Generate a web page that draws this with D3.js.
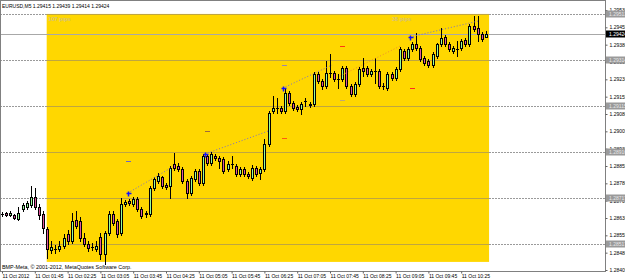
<!DOCTYPE html>
<html>
<head>
<meta charset="utf-8">
<script src="https://cdn.jsdelivr.net/npm/d3@7"></script>
<style>
  body { margin: 0; background: #fff; }
  svg { display: block; font-family: "Liberation Sans", Arial, sans-serif; }
</style>
</head>
<body>
<div id="chart"></div>
<script>
const title = "EURUSD,M5  1.29415 1.29439 1.29414 1.29424";
const copyright = "BMP-Meta, \u00a9 2001-2012, MetaQuotes Software Corp.";

// M5 bars, index 0 = first visible bar
const labelBars = [0, 8, 16, 24, 32, 40, 48, 56, 64, 72, 80, 88, 96, 104, 112];
const timeLabels = ["11 Oct 2012", "11 Oct 01:45", "11 Oct 02:25", "11 Oct 03:05", "11 Oct 03:45",
  "11 Oct 04:25", "11 Oct 05:05", "11 Oct 05:45", "11 Oct 06:25", "11 Oct 07:05", "11 Oct 07:45",
  "11 Oct 08:25", "11 Oct 09:05", "11 Oct 09:45", "11 Oct 10:25"];

const opens = [1.28647,1.28651,1.28642,1.28642,1.28625,1.28668,1.28677,1.28686,1.28720,1.28677,
  1.28647,1.28582,1.28491,1.28495,1.28495,1.28508,1.28560,1.28530,1.28621,1.28616,
  1.28543,1.28517,1.28504,1.28495,1.28547,1.28474,1.28565,1.28647,1.28616,1.28565,
  1.28690,1.28703,1.28690,1.28712,1.28668,1.28647,1.28647,1.28759,1.28790,1.28807,
  1.28772,1.28768,1.28863,1.28855,1.28842,1.28790,1.28738,1.28798,1.28833,1.28781,
  1.28898,1.28868,1.28898,1.28889,1.28885,1.28842,1.28863,1.28855,1.28820,1.28842,
  1.28820,1.28803,1.28846,1.28824,1.28842,1.28950,1.29093,1.29106,1.29106,1.29093,
  1.29171,1.29127,1.29110,1.29101,1.29136,1.29123,1.29123,1.29253,1.29223,1.29201,
  1.29257,1.29257,1.29231,1.29231,1.29279,1.29201,1.29166,1.29210,1.29279,1.29279,
  1.29253,1.29266,1.29266,1.29201,1.29192,1.29253,1.29236,1.29275,1.29352,1.29322,
  1.29361,1.29383,1.29365,1.29322,1.29309,1.29292,1.29331,1.29383,1.29413,1.29383,
  1.29352,1.29361,1.29365,1.29400,1.29383,1.29461,1.29452,1.29426,1.29415];
const highs = [1.28656,1.28655,1.28660,1.28647,1.28677,1.28694,1.28703,1.28768,1.28759,1.28690,
  1.28660,1.28590,1.28530,1.28512,1.28530,1.28560,1.28577,1.28651,1.28660,1.28634,
  1.28565,1.28530,1.28521,1.28530,1.28565,1.28573,1.28660,1.28660,1.28625,1.28716,
  1.28707,1.28712,1.28720,1.28720,1.28677,1.28660,1.28768,1.28807,1.28824,1.28811,
  1.28781,1.28855,1.28911,1.28868,1.28850,1.28798,1.28811,1.28842,1.28842,1.28906,
  1.28906,1.28915,1.28906,1.28898,1.28894,1.28876,1.28898,1.28863,1.28850,1.28850,
  1.28829,1.28859,1.28855,1.28850,1.28972,1.29093,1.29158,1.29149,1.29114,1.29188,
  1.29179,1.29136,1.29119,1.29132,1.29149,1.29132,1.29262,1.29262,1.29231,1.29309,
  1.29339,1.29266,1.29253,1.29288,1.29288,1.29210,1.29218,1.29283,1.29322,1.29288,
  1.29275,1.29322,1.29275,1.29214,1.29262,1.29262,1.29283,1.29370,1.29361,1.29370,
  1.29391,1.29430,1.29374,1.29331,1.29318,1.29348,1.29387,1.29452,1.29422,1.29391,
  1.29374,1.29396,1.29404,1.29409,1.29469,1.29504,1.29504,1.29435,1.29439];
const lows = [1.28638,1.28638,1.28638,1.28625,1.28621,1.28660,1.28668,1.28677,1.28668,1.28625,
  1.28565,1.28456,1.28478,1.28478,1.28487,1.28500,1.28517,1.28521,1.28586,1.28530,
  1.28508,1.28487,1.28491,1.28487,1.28452,1.28430,1.28556,1.28599,1.28547,1.28556,
  1.28681,1.28686,1.28681,1.28660,1.28629,1.28634,1.28638,1.28751,1.28781,1.28759,
  1.28755,1.28716,1.28837,1.28833,1.28781,1.28716,1.28729,1.28790,1.28772,1.28772,
  1.28859,1.28859,1.28880,1.28846,1.28824,1.28833,1.28846,1.28811,1.28811,1.28811,
  1.28803,1.28794,1.28811,1.28798,1.28833,1.28941,1.29084,1.29084,1.29084,1.29084,
  1.29119,1.29097,1.29093,1.29080,1.29114,1.29110,1.29114,1.29214,1.29188,1.29192,
  1.29240,1.29223,1.29192,1.29223,1.29192,1.29158,1.29158,1.29201,1.29244,1.29244,
  1.29244,1.29214,1.29192,1.29188,1.29184,1.29227,1.29227,1.29266,1.29314,1.29314,
  1.29352,1.29357,1.29309,1.29292,1.29283,1.29283,1.29322,1.29374,1.29374,1.29352,
  1.29344,1.29331,1.29357,1.29374,1.29374,1.29439,1.29396,1.29396,1.29414];
const closes = [1.28647,1.28642,1.28651,1.28629,1.28651,1.28686,1.28694,1.28720,1.28677,1.28642,
  1.28586,1.28495,1.28504,1.28495,1.28508,1.28543,1.28530,1.28616,1.28595,1.28543,
  1.28517,1.28500,1.28504,1.28508,1.28474,1.28565,1.28647,1.28608,1.28560,1.28690,
  1.28699,1.28694,1.28712,1.28668,1.28638,1.28651,1.28759,1.28798,1.28811,1.28768,
  1.28764,1.28846,1.28846,1.28842,1.28790,1.28738,1.28803,1.28833,1.28781,1.28898,
  1.28868,1.28906,1.28889,1.28876,1.28833,1.28863,1.28863,1.28820,1.28842,1.28820,
  1.28811,1.28846,1.28820,1.28842,1.28950,1.29084,1.29106,1.29106,1.29093,1.29171,
  1.29127,1.29106,1.29101,1.29123,1.29136,1.29119,1.29253,1.29223,1.29201,1.29257,
  1.29257,1.29231,1.29231,1.29279,1.29201,1.29166,1.29210,1.29275,1.29266,1.29253,
  1.29266,1.29266,1.29201,1.29201,1.29253,1.29236,1.29275,1.29361,1.29322,1.29361,
  1.29383,1.29365,1.29318,1.29301,1.29292,1.29339,1.29383,1.29409,1.29383,1.29361,
  1.29365,1.29361,1.29396,1.29383,1.29461,1.29448,1.29426,1.29404,1.29424];

const priceTicks = [1.29530,1.29455,1.29380,1.29305,1.29230,1.29155,1.29080,1.29005,
  1.28930,1.28855,1.28780,1.28705,1.28630,1.28555,1.28480,1.28405];
const levelPrices = [1.29513, 1.29314, 1.29115, 1.28916, 1.28717, 1.28517];
const bidPrice = 1.29424;

// yellow box: bar range and price range
const boxBars = [10.9, 118.8];
const boxPrices = [1.28440, 1.29513];
const boxTexts = ["107 pips", "38 pips"];
const boxTextBars = [11.3, 95.1];

// blue arrows and the dotted lines leaving them
const arrowBars = [30.7, 49.5, 68.5, 99.5];
const arrowPrices = [1.28738, 1.28907, 1.29192, 1.29413];
const dotFromBars = [30.7, 49.5, 68.5, 82.4, 99.5];
const dotFromPrices = [1.28738, 1.28907, 1.29192, 1.29244, 1.29413];
const dotToBars = [41.5, 64.9, 80.5, 97.1, 116.1];
const dotToPrices = [1.28850, 1.29006, 1.29292, 1.29374, 1.29482];
const dotColors = ["#7a70c8", "#7a70c8", "#7a70c8", "#f08a30", "#7a70c8"];

// short level dashes
const dashBars = [82.9, 68.8, 82.9, 50.0, 68.8, 100.0, 30.7];
const dashPrices = [1.29374, 1.29292, 1.29140, 1.29006, 1.28975, 1.29192, 1.28876];
const dashColors = ["#ff3a10", "#9a86b0", "#c0a878", "#a06a3a", "#ff5a10", "#ff2a20", "#6a66c8"];

const W = 625, H = 280;
const plotRight = 605, plotBottom = 271;

const svg = d3.select("#chart").append("svg")
  .attr("width", W)
  .attr("height", H);

const x = d3.scaleLinear().domain([0, 118]).range([2, 485.8]);
const y = d3.scaleLinear().domain([1.28405, 1.29530]).range([270, 10]);

const plot = svg.append("g");

// yellow box
plot.append("rect")
  .attr("x", x(boxBars[0]))
  .attr("y", y(boxPrices[1]))
  .attr("width", x(boxBars[1]) - x(boxBars[0]))
  .attr("height", y(boxPrices[0]) - y(boxPrices[1]))
  .attr("fill", "#ffd700");

// horizontal level lines (dotted on white, solid where they cross the box)
plot.selectAll(".lvl")
  .data(levelPrices)
  .enter().append("line")
  .attr("x1", 0).attr("x2", plotRight)
  .attr("y1", d => Math.round(y(d)) + 0.5)
  .attr("y2", d => Math.round(y(d)) + 0.5)
  .attr("stroke", "#9a9a9a")
  .attr("stroke-dasharray", "2,1");

plot.selectAll(".lvlbox")
  .data(levelPrices.filter(d => d >= boxPrices[0] && d <= boxPrices[1]))
  .enter().append("line")
  .attr("x1", x(boxBars[0])).attr("x2", x(boxBars[1]))
  .attr("y1", d => Math.round(y(d)) + 0.5)
  .attr("y2", d => Math.round(y(d)) + 0.5)
  .attr("stroke", "#bfa640");

plot.append("line")
  .attr("x1", 0).attr("x2", plotRight)
  .attr("y1", Math.round(y(bidPrice)) + 0.5)
  .attr("y2", Math.round(y(bidPrice)) + 0.5)
  .attr("stroke", "#a8a8a8");

// candles
const bars = d3.range(opens.length);
const candle = plot.selectAll(".candle")
  .data(bars)
  .enter().append("g");

candle.append("line")
  .attr("x1", i => Math.round(x(i)) + 0.5)
  .attr("x2", i => Math.round(x(i)) + 0.5)
  .attr("y1", i => Math.round(y(highs[i])))
  .attr("y2", i => Math.round(y(lows[i])) + 1)
  .attr("stroke", "#000");

candle.each(function (i) {
  const g = d3.select(this);
  const cx = Math.round(x(i));
  const top = Math.round(y(Math.max(opens[i], closes[i])));
  const bot = Math.round(y(Math.min(opens[i], closes[i])));
  if (bot - top < 1) {
    g.append("line")
      .attr("x1", cx - 1).attr("x2", cx + 2)
      .attr("y1", top + 0.5).attr("y2", top + 0.5)
      .attr("stroke", "#000");
  } else {
    g.append("rect")
      .attr("x", cx - 0.5)
      .attr("y", top + 0.5)
      .attr("width", 2)
      .attr("height", bot - top)
      .attr("fill", closes[i] > opens[i] ? "#98fb98" : "#e0569c")
      .attr("stroke", "#000");
  }
});

// dotted lines
plot.selectAll(".dot")
  .data(dotFromBars)
  .enter().append("line")
  .attr("x1", (d, i) => x(d))
  .attr("y1", (d, i) => y(dotFromPrices[i]))
  .attr("x2", (d, i) => x(dotToBars[i]))
  .attr("y2", (d, i) => y(dotToPrices[i]))
  .attr("stroke", (d, i) => dotColors[i])
  .attr("stroke-width", 1)
  .attr("stroke-dasharray", "1,2");

// short dashes
plot.selectAll(".dash")
  .data(dashBars)
  .enter().append("line")
  .attr("x1", d => Math.round(x(d)) - 2)
  .attr("x2", d => Math.round(x(d)) + 3)
  .attr("y1", (d, i) => Math.round(y(dashPrices[i])) + 0.5)
  .attr("y2", (d, i) => Math.round(y(dashPrices[i])) + 0.5)
  .attr("stroke", (d, i) => dashColors[i]);

// blue arrows
const arrow = plot.selectAll(".arrow")
  .data(arrowBars)
  .enter().append("g")
  .attr("transform", (d, i) => `translate(${Math.round(x(d)) + 0.5},${Math.round(y(arrowPrices[i])) + 0.5})`);
arrow.append("line").attr("x1", -2).attr("x2", 3).attr("y1", 0).attr("y2", 0).attr("stroke", "#1010ff").attr("stroke-width", 1.5);
arrow.append("line").attr("x1", 0).attr("x2", 0).attr("y1", -2).attr("y2", 3).attr("stroke", "#1010ff").attr("stroke-width", 1.5);

// box captions
plot.selectAll(".boxtext")
  .data(boxTexts)
  .enter().append("text")
  .attr("x", (d, i) => x(boxTextBars[i]))
  .attr("y", y(boxPrices[1]) + 7)
  .attr("font-size", 5.6)
  .attr("font-weight", "bold")
  .attr("fill", "#d6c27a")
  .text(d => d);

// frame
svg.append("rect")
  .attr("x", 0.5).attr("y", 0.5)
  .attr("width", plotRight)
  .attr("height", plotBottom)
  .attr("fill", "none")
  .attr("stroke", "#808080");

// price axis
const yAxis = d3.axisRight(y)
  .tickValues(priceTicks)
  .tickFormat(d3.format(".5f"))
  .tickSize(2)
  .tickPadding(2);
svg.append("g")
  .attr("transform", `translate(${plotRight + 0.5},0)`)
  .call(yAxis)
  .call(g => g.select(".domain").remove())
  .call(g => g.selectAll("line").attr("stroke", "#606060"))
  .call(g => g.selectAll("text").attr("font-size", 5).attr("font-family", "Liberation Sans, Arial, sans-serif").attr("fill", "#000"));

// level tags on the price axis
const tags = svg.selectAll(".tag")
  .data(levelPrices)
  .enter().append("g")
  .attr("transform", d => `translate(${plotRight + 1},${Math.round(y(d))})`);
tags.append("rect").attr("x", 0).attr("y", -3.5).attr("width", 24).attr("height", 7).attr("fill", "#9a9a9a");
tags.append("text").attr("x", 3).attr("y", 2).attr("font-size", 5).attr("fill", "#e8e8e8").text(d => d3.format(".5f")(d));

const bidTag = svg.append("g")
  .attr("transform", `translate(${plotRight + 1},${Math.round(y(bidPrice))})`);
bidTag.append("rect").attr("x", 0).attr("y", -3.5).attr("width", 24).attr("height", 7).attr("fill", "#000");
bidTag.append("text").attr("x", 3).attr("y", 2).attr("font-size", 5).attr("fill", "#fff").text(d3.format(".5f")(bidPrice));

// time axis
const xAxis = d3.axisBottom(x)
  .tickValues(labelBars)
  .tickFormat((d, i) => timeLabels[i])
  .tickSize(2)
  .tickSizeOuter(0);
svg.append("g")
  .attr("transform", `translate(0,${plotBottom + 0.5})`)
  .call(xAxis)
  .call(g => g.select(".domain").remove())
  .call(g => g.selectAll("line").attr("stroke", "#606060"))
  .call(g => g.selectAll("text")
    .attr("text-anchor", "start")
    .attr("x", 0)
    .attr("y", 3)
    .attr("font-size", 5)
    .attr("font-family", "Liberation Sans, Arial, sans-serif")
    .attr("fill", "#000"));

// header and copyright
svg.append("text")
  .attr("x", 2).attr("y", 8)
  .attr("font-size", 5)
  .attr("fill", "#000")
  .text(title);

svg.append("text")
  .attr("x", 2).attr("y", plotBottom - 2)
  .attr("font-size", 5.4)
  .attr("fill", "#000")
  .text(copyright);
</script>
</body>
</html>
